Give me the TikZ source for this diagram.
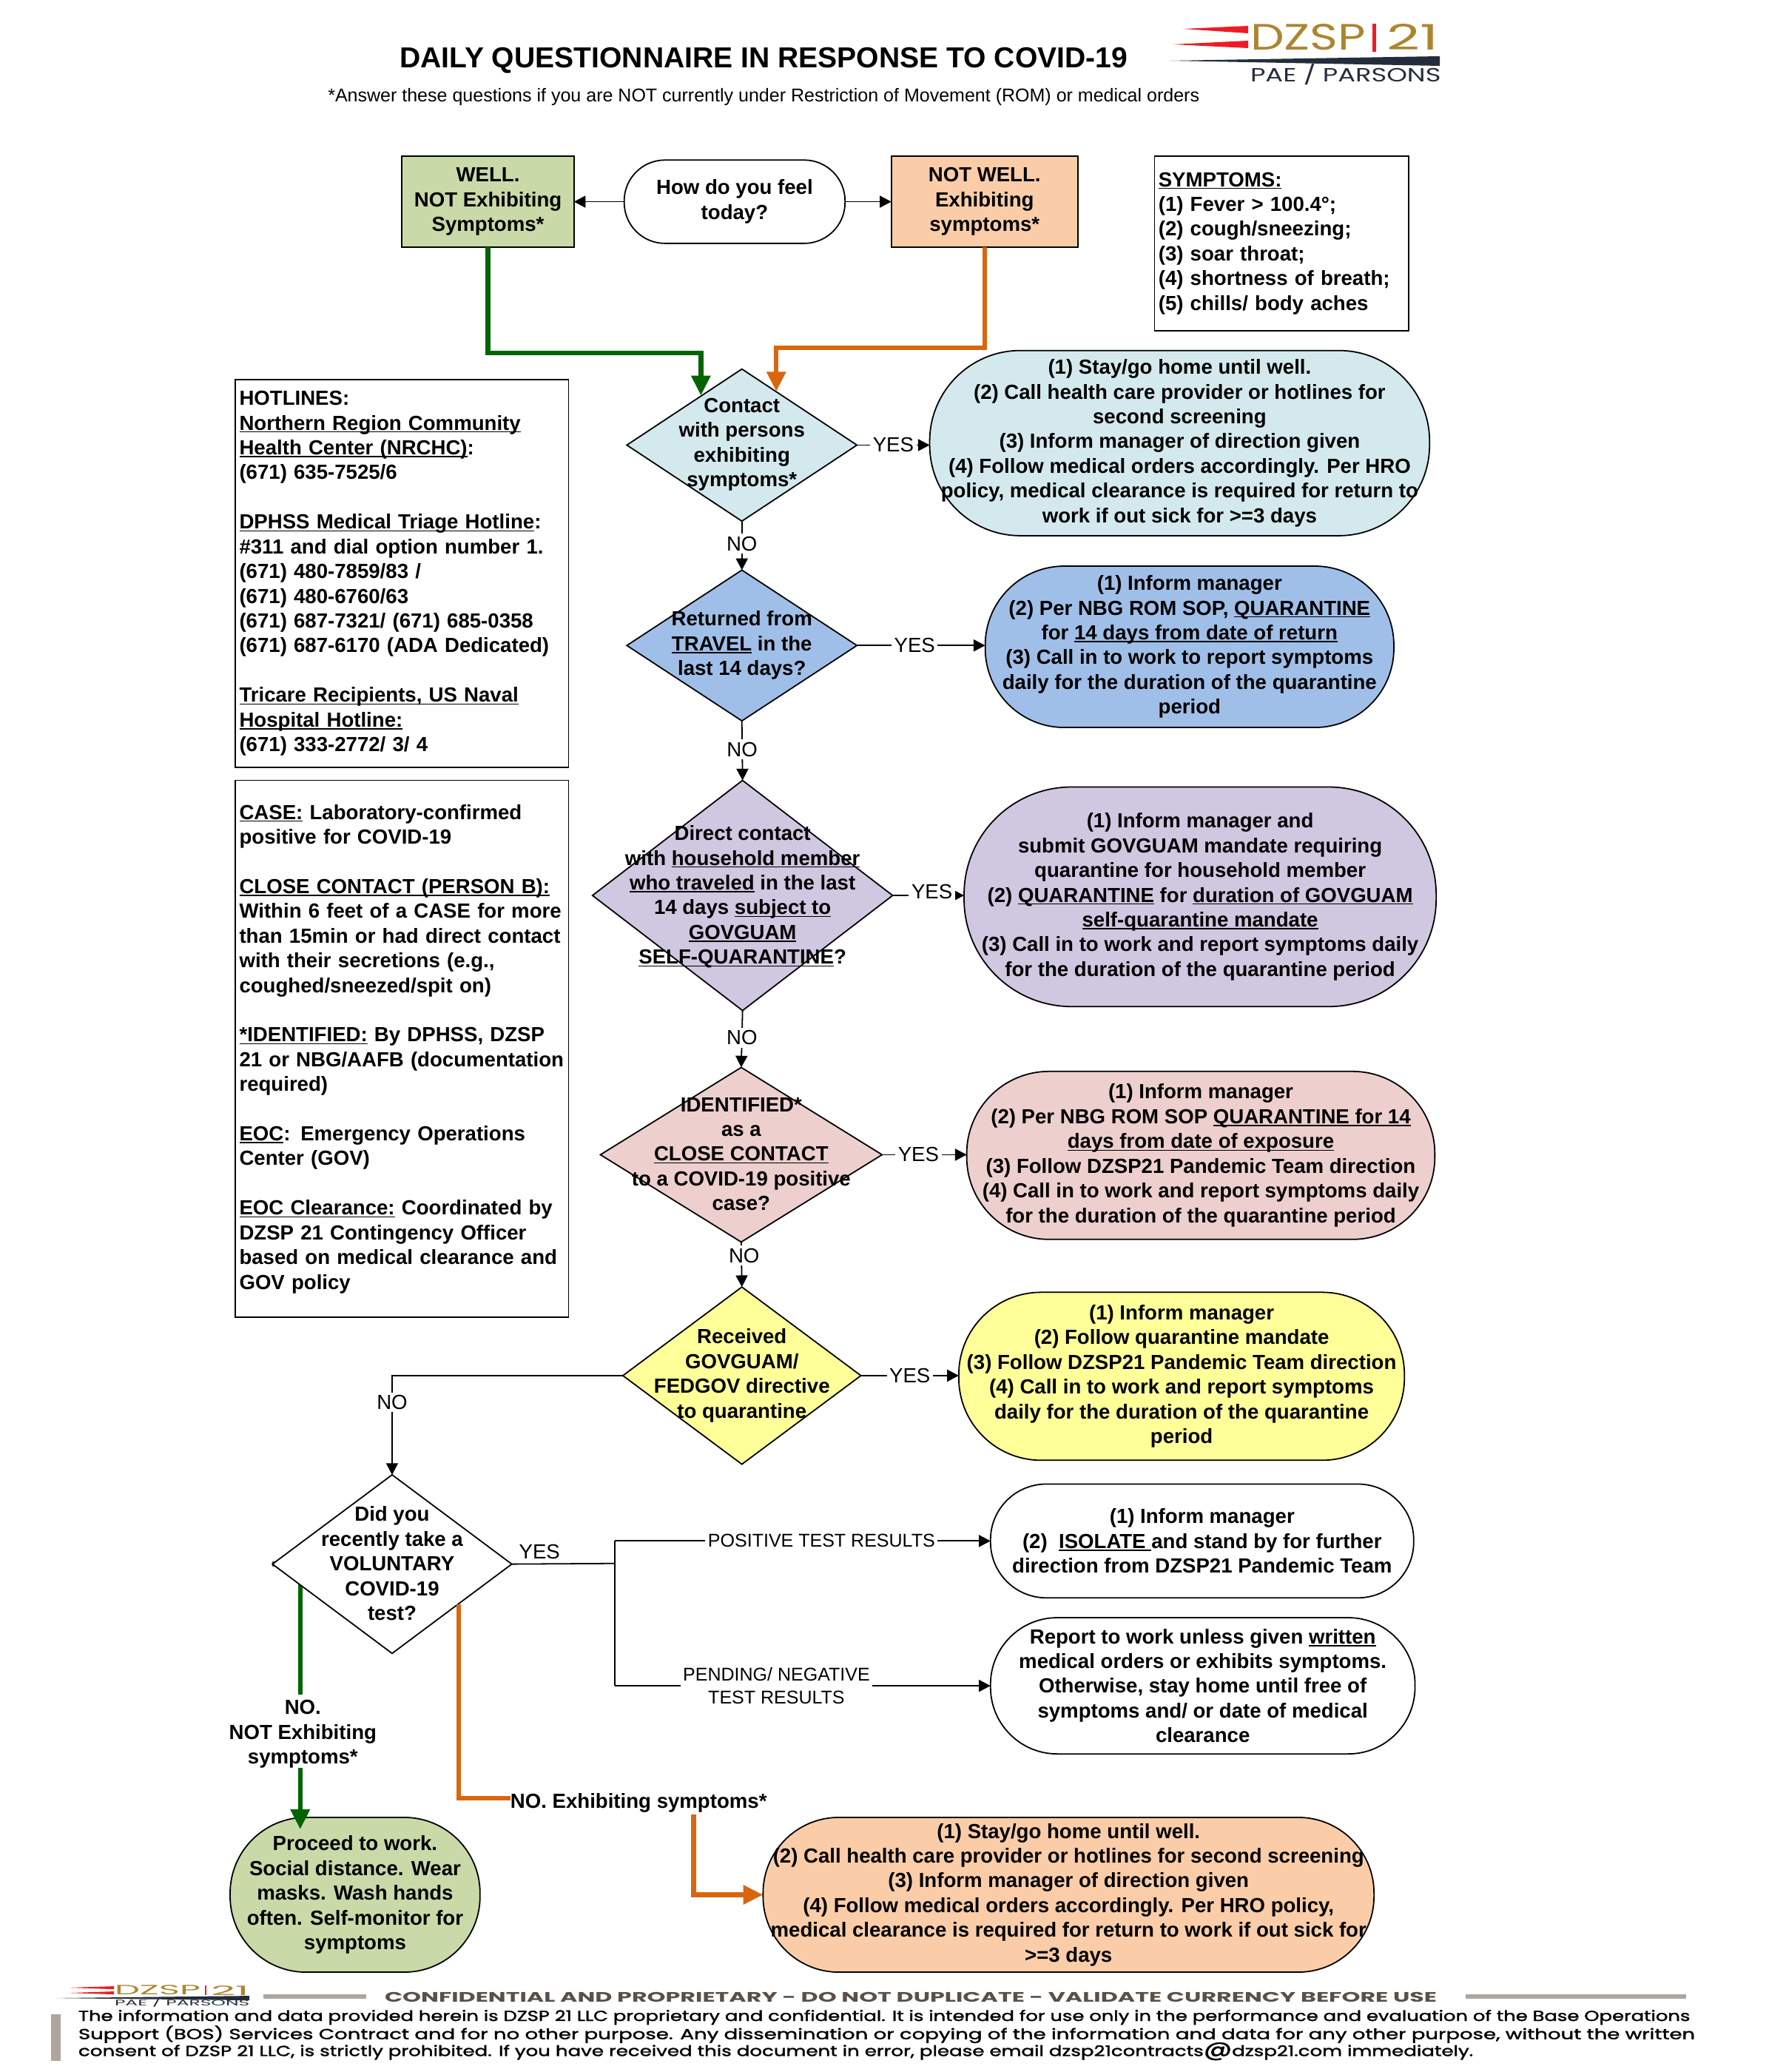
\documentclass[tikz,border=0pt]{standalone}
\usepackage{fontspec}
\usepackage{graphicx}
\setmainfont{Liberation Sans}
\newfontfamily\logofont{Poppins}
\newfontfamily\footfont{Poppins}[FakeBold=1.6]
\usetikzlibrary{shapes.geometric,arrows.meta,calc}
\pgfdeclarelayer{bg}
\pgfsetlayers{bg,main}
\definecolor{cgreen}{HTML}{C9D9A8}
\definecolor{corange}{HTML}{FACDA8}
\definecolor{cteal}{HTML}{D3E9ED}
\definecolor{cblue}{HTML}{A0BFE8}
\definecolor{cpurple}{HTML}{CFC8E0}
\definecolor{cpink}{HTML}{EDCFCE}
\definecolor{cyellow}{HTML}{FFFF99}
\definecolor{lgreen}{HTML}{006400}
\definecolor{lorange}{HTML}{D9660F}
\definecolor{lgold}{HTML}{AD8530}
\definecolor{lred}{HTML}{ED1C24}
\definecolor{lnavy}{HTML}{232D3B}
\definecolor{fbar}{HTML}{ADA59E}
\definecolor{ftxt}{HTML}{5A5048}
\newcommand\ul[1]{\leavevmode\sbox0{#1}\rlap{\rule[-.95pt]{\wd0}{.45pt}}\usebox0}
\newcommand\blankline{\mbox{}\\}
\tikzset{
  body/.style={font=\fontsize{7.72}{9.35}\selectfont\bfseries,align=center,inner sep=0pt,outer sep=0pt},
  plain/.style={draw=black,line width=.5pt},
  flowbox/.style={plain,rectangle,body},
  infobox/.style={plain,rectangle,font=\fontsize{7.72}{9.35}\selectfont\bfseries,align=left,inner xsep=1.5pt,inner ysep=0pt,outer sep=0pt},
  pillbox/.style={plain,rectangle,body},
  diashape/.style={plain,diamond,inner sep=0pt,outer sep=0pt,aspect=1},
  yn/.style={font=\fontsize{7.72}{9.35}\selectfont,fill=white,inner xsep=1pt,inner ysep=1pt,align=center},
  small/.style={font=\fontsize{7}{8.6}\selectfont,fill=white,inner xsep=1pt,inner ysep=.5pt,align=center},
  conn/.style={draw=black,line width=.5pt,-{Triangle[length=4.4pt,width=4.5pt]}},
  connplain/.style={draw=black,line width=.5pt},
  gline/.style={draw=lgreen,line width=1.8pt},
  oline/.style={draw=lorange,line width=1.8pt},
  garrow/.style={gline,-{Triangle[length=7.5pt,width=7pt]}},
  oarrow/.style={oline,-{Triangle[length=7.5pt,width=7pt]}},
  refpx/.style={x=.27974pt,y=-.27974pt},
  foot/.style={anchor=west,inner sep=0pt,outer sep=0pt,font=\footfont\fontsize{5.5}{6}\selectfont},
  foothead/.style={anchor=west,inner sep=0pt,outer sep=0pt,font=\logofont\fontsize{5.2}{6}\selectfont\bfseries},
  logot/.style={anchor=south west,inner sep=0pt,outer sep=0pt,font=\logofont},
  fbarst/.style={fill=fbar,draw=none}
}
% [options]{name}{x1}{y1}{x2}{y2}{text}
\newcommand\boxnode[7][]{%
  \pgfmathsetmacro\cxx{(#3+#5)/2}\pgfmathsetmacro\cyy{(#4+#6)/2}%
  \node[#1,minimum width={(#5-#3)*.5pt},minimum height={(#6-#4)*.5pt}] (#2) at (\cxx,\cyy) {#7};}
\newcommand\pillnode[7][]{%
  \pgfmathsetmacro\cxx{(#3+#5)/2}\pgfmathsetmacro\cyy{(#4+#6)/2}\pgfmathsetmacro\rr{(#6-#4)*.245}%
  \node[pillbox,#1,rounded corners=\rr pt,minimum width={(#5-#3)*.5pt},minimum height={(#6-#4)*.5pt}] (#2) at (\cxx,\cyy) {#7};}
% [fill]{name}{x1}{y1}{x2}{y2}{textcy}{text}
\newcommand\dianode[8][white]{%
  \pgfmathsetmacro\cxx{(#3+#5)/2}\pgfmathsetmacro\cyy{(#4+#6)/2}%
  \node[diashape,fill=#1,minimum width={(#5-#3)*.5pt},minimum height={(#6-#4)*.5pt}] (#2) at (\cxx,\cyy) {};
  \node[body] (#2t) at (\cxx,#7) {#8};}
\begin{document}
\begin{tikzpicture}[x=.5pt,y=-.5pt]
\useasboundingbox (0,0) rectangle (1350,1566.5);
% title
\node[font=\fontsize{10.93}{12}\selectfont\bfseries,inner sep=0pt] (title) at (577.5,45.5) {DAILY QUESTIONNAIRE IN RESPONSE TO COVID-19};
\node[font=\fontsize{7}{9}\selectfont,inner sep=0pt] (subtitle) at (577.5,73.5) {*Answer these questions if you are NOT currently under Restriction of Movement (ROM) or medical orders};
% top logo
\begin{scope}[refpx]
\fill[lred] (1599,39) -- (1687,35) -- (1687,45) -- cycle;
\fill[lred] (1585,60) -- (1687,55) -- (1687,65) -- cycle;
\fill[lnavy] (1581,82) -- (1946,76) -- (1946,89) -- cycle;
\node[logot,text=lgold] (lg1) at (1690,68) {\resizebox{43.6pt}{9.8pt}{DZSP}};
\fill[lred] (1855,32) rectangle (1860,70);
\node[logot,text=lgold] (lg2) at (1874,68) {\resizebox{19.6pt}{9.8pt}{21}};
\node[logot,text=lnavy] (lg3) at (1690,115) {\resizebox{72pt}{6.8pt}{PAE / PARSONS}};
% footer logo
\fill[lred] (93,2686) -- (154,2684) -- (154,2688) -- cycle;
\fill[lred] (93,2693) -- (154,2691) -- (154,2695) -- cycle;
\fill[lnavy] (75,2700) -- (337,2697) -- (337,2703) -- cycle;
\node[logot,text=lgold] (fl1) at (155,2696) {\resizebox{32.4pt}{3.6pt}{DZSP}};
\fill[lred] (277,2683) rectangle (279,2696);
\node[logot,text=lgold] (fl2) at (285,2696) {\resizebox{14.4pt}{3.6pt}{21}};
\node[logot,text=lnavy] (fl3) at (155,2712) {\resizebox{51pt}{2.9pt}{PAE / PARSONS}};
% footer
\fill[fbarst] (356,2695) rectangle (495,2701);
\fill[fbarst] (1981,2695) rectangle (2279,2701);
\fill[fbarst] (69,2722) rectangle (82,2785);
\node[foothead,text=ftxt] (f0) at (520,2699) {\resizebox{397.8pt}{\height}{CONFIDENTIAL AND PROPRIETARY - DO NOT DUPLICATE - VALIDATE CURRENCY BEFORE USE}};
\node[foot] (f1) at (106,2726) {\resizebox{609.3pt}{\height}{The information and data provided herein is DZSP 21 LLC proprietary and confidential. It is intended for use only in the performance and evaluation of the Base Operations}};
\node[foot] (f2) at (106,2749) {\resizebox{611.2pt}{\height}{Support (BOS) Services Contract and for no other purpose. Any dissemination or copying of the information and data for any other purpose, without the written}};
\node[foot] (f3) at (106,2772) {\resizebox{527.3pt}{\height}{consent of DZSP 21 LLC, is strictly prohibited. If you have received this document in error, please email dzsp21contracts{\fontsize{8}{6}\selectfont @}dzsp21.com immediately.}};
\end{scope}
% top row
\boxnode[flowbox,fill=cgreen]{well}{304}{118}{434}{187}{WELL.\\NOT Exhibiting\\Symptoms*}
\pillnode{feel}{472}{121}{639}{184}{How do you feel\\today?}
\boxnode[flowbox,fill=corange]{notwell}{674}{118}{815}{187}{NOT WELL.\\Exhibiting\\symptoms*}
\boxnode[infobox,text width=186*.5pt]{symptoms}{873}{118}{1065}{250}{\ul{SYMPTOMS:}\\(1) Fever > 100.4°;\\(2) cough/sneezing;\\(3) soar throat;\\(4) shortness of breath;\\(5) chills/ body aches}
\draw[conn] (feel.west) -- (well.east |- feel.west);
\draw[conn] (feel.east) -- (notwell.west |- feel.east);
% info boxes
\boxnode[infobox,text width=246*.5pt]{hotlines}{178}{287}{430}{580}{HOTLINES:\\\ul{Northern Region Community}\\\ul{Health Center (NRCHC)}:\\(671) 635-7525/6\\\blankline\ul{DPHSS Medical Triage Hotline}:\\\#311 and dial option number 1.\\(671) 480-7859/83 /\\(671) 480-6760/63\\(671) 687-7321/ (671) 685-0358\\(671) 687-6170 (ADA Dedicated)\\\blankline\ul{Tricare Recipients, US Naval}\\\ul{Hospital Hotline:}\\(671) 333-2772/ 3/ 4}
\boxnode[infobox,text width=246*.5pt]{defs}{178}{590}{430}{996}{\ul{CASE:} Laboratory-confirmed\\positive for COVID-19\\\blankline\ul{CLOSE CONTACT (PERSON B):}\\Within 6 feet of a CASE for more\\than 15min or had direct contact\\with their secretions (e.g.,\\coughed/sneezed/spit on)\\\blankline\ul{*IDENTIFIED:} By DPHSS, DZSP\\21 or NBG/AAFB (documentation\\required)\\\blankline\ul{EOC}: Emergency Operations\\Center (GOV)\\\blankline\ul{EOC Clearance:} Coordinated by\\DZSP 21 Contingency Officer\\based on medical clearance and\\GOV policy}
% decisions
\dianode[cteal]{d1}{474}{279}{648}{394}{336}{Contact\\with persons\\exhibiting\\symptoms*}
\dianode[cblue]{d2}{474}{431}{648}{545}{488}{Returned from\\\ul{TRAVEL} in the\\last 14 days?}
\dianode[cpurple]{d3}{448}{590}{675}{764}{678}{Direct contact\\with \ul{household member}\\\ul{who traveled} in the last\\14 days \ul{subject to}\\\ul{GOVGUAM}\\\ul{SELF-QUARANTINE}?}
\dianode[cpink]{d4}{454}{807}{667}{939}{872.5}{IDENTIFIED*\\as a\\\ul{CLOSE CONTACT}\\to a COVID-19 positive\\case?}
\dianode[cyellow]{d5}{471}{973}{651}{1107}{1040}{Received\\GOVGUAM/\\FEDGOV directive\\to quarantine}
\dianode[white]{d6}{206}{1115}{387}{1250}{1182}{Did you\\recently take a\\VOLUNTARY\\COVID-19\\test?}
% outcomes
\pillnode[fill=cteal]{p1}{703}{265}{1081}{405}{(1) Stay/go home until well.\\(2) Call health care provider or hotlines for\\second screening\\(3) Inform manager of direction given\\(4) Follow medical orders accordingly. Per HRO\\policy, medical clearance is required for return to\\work if out sick for >=3 days}
\pillnode[fill=cblue]{p2}{745}{428}{1054}{550}{(1) Inform manager\\(2) Per NBG ROM SOP, \ul{QUARANTINE}\\for \ul{14 days from date of return}\\(3) Call in to work to report symptoms\\daily for the duration of the quarantine\\period}
\pillnode[fill=cpurple]{p3}{729}{595}{1086}{761}{(1) Inform manager and\\submit GOVGUAM mandate requiring\\quarantine for household member\\(2) \ul{QUARANTINE} for \ul{duration of GOVGUAM}\\\ul{self-quarantine mandate}\\(3) Call in to work and report symptoms daily\\for the duration of the quarantine period}
\pillnode[fill=cpink]{p4}{731}{810}{1085}{937}{(1) Inform manager\\(2) Per NBG ROM SOP \ul{QUARANTINE for 14}\\\ul{days from date of exposure}\\(3) Follow DZSP21 Pandemic Team direction\\(4) Call in to work and report symptoms daily\\for the duration of the quarantine period}
\pillnode[fill=cyellow]{p5}{725}{977}{1062}{1104}{(1) Inform manager\\(2) Follow quarantine mandate\\(3) Follow DZSP21 Pandemic Team direction\\(4) Call in to work and report symptoms\\daily for the duration of the quarantine\\period}
\pillnode{p6}{749}{1122}{1069}{1208}{(1) Inform manager\\(2)\ \ \ul{ISOLATE }and stand by for further\\direction from DZSP21 Pandemic Team}
\pillnode{p7}{749}{1223}{1070}{1326}{Report to work unless given \ul{written}\\medical orders or exhibits symptoms.\\Otherwise, stay home until free of\\symptoms and/ or date of medical\\clearance}
\pillnode[fill=cgreen]{p8}{174}{1374}{363}{1491}{Proceed to work.\\Social distance. Wear\\masks. Wash hands\\often. Self-monitor for\\symptoms}
\pillnode[fill=corange]{p9}{577}{1374}{1039}{1491}{(1) Stay/go home until well.\\(2) Call health care provider or hotlines for second screening\\(3) Inform manager of direction given\\(4) Follow medical orders accordingly. Per HRO policy,\\medical clearance is required for return to work if out sick for\\>=3 days}
% thick entry connectors
\coordinate (gin) at (530,299);
\coordinate (oin) at (587,296);
\coordinate (gturn) at (530,267);
\coordinate (oturn) at (587,263);
\draw[garrow] (well.south) |- (gturn) -- (gin);
\draw[oarrow] (notwell.south) |- (oturn) -- (oin);
% yes/no chain
\draw[conn] (d1.east) -- node[yn,pos=.5]{YES} (d1.east -| p1.west);
\draw[conn] (d2.east) -- node[yn,pos=.45]{YES} (d2.east -| p2.west);
\draw[conn] (d3.east) -- node[yn,pos=.55,yshift=1.5pt]{YES} (d3.east -| p3.west);
\draw[conn] (d4.east) -- node[yn,pos=.43]{YES} (d4.east -| p4.west);
\draw[conn] (d5.east) -- node[yn,pos=.5]{YES} (d5.east -| p5.west);
\draw[conn] (d1.south) -- node[yn,pos=.46]{NO} (d2.north);
\draw[conn] (d2.south) -- node[yn,pos=.48]{NO} (d3.north);
\draw[conn] (d3.south) -- node[yn,pos=.48]{NO} (d4.north);
\draw[conn] (d4.south) -- node[yn,pos=.3,xshift=1pt]{NO} (d5.north);
\coordinate (nocorner) at (d5.west -| d6.north);
\draw[conn] (d5.west) -- (nocorner) -- node[yn,pos=.27]{NO} (d6.north);
% test results
\coordinate (split) at (465,1182);
\coordinate (postop) at (465,1165);
\coordinate (posbot) at (465,1274);
\node[font=\fontsize{7.72}{9.35}\selectfont,inner sep=0pt] (yes6) at (408,1173) {YES};
\draw[connplain] (d6.east) -- (split);
\draw[conn] (postop |- p6.west) -- node[small,pos=.55]{POSITIVE TEST RESULTS} (p6.west);
\draw[conn] (posbot |- p7.west) -- node[small,pos=.43]{PENDING/ NEGATIVE\\TEST RESULTS} (p7.west);
\draw[connplain] (postop |- p6.west) -- (posbot |- p7.west);
% not-exhibiting branch
\node[body] (noex) at (229,1311) {NO.\\NOT Exhibiting\\symptoms*};
\coordinate (gx) at (227,1281);
\coordinate (gtip) at (227,1383);
\begin{pgfonlayer}{bg}
\draw[gline] (d6.west) -| (gx);
\end{pgfonlayer}
\draw[garrow] (gx |- noex.south) -- (gtip);
% exhibiting branch
\node[body,anchor=west] (noexh) at (386,1363) {NO. Exhibiting symptoms*};
\coordinate (o1) at (347,1213);
\coordinate (o2) at (386,1359.5);
\coordinate (o3) at (524.5,1372);
\draw[oline] (o1) |- (o2);
\draw[oarrow] (o3) |- (p9.west);
\end{tikzpicture}
\end{document}
